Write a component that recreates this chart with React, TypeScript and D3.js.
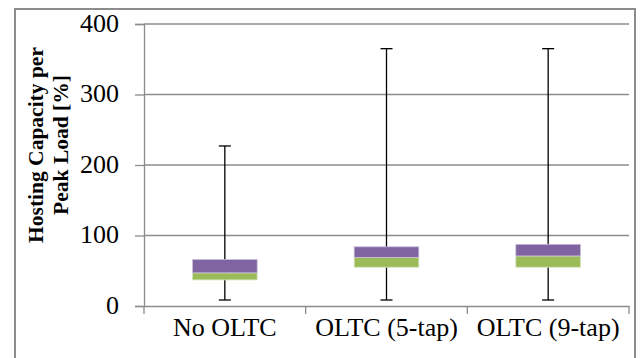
import React, {useEffect, useRef} from 'react';
import * as d3 from "d3";

const categories = ["No OLTC", "OLTC (5-tap)", "OLTC (9-tap)"];
const minValues = [8.5, 8.5, 8.5];
const q1Values = [37, 55, 55];
const medianValues = [47, 69, 71];
const q3Values = [66, 84, 87.5];
const maxValues = [227, 365, 365];
const yTicks = [0, 100, 200, 300, 400];

const width = 641;
const height = 358;

const App = () => {
    const svgRef = useRef<SVGSVGElement>(null);

    useEffect(() => {
        const svg = d3.select(svgRef.current);
        svg.selectAll("*").remove();

        const font = "'Liberation Serif', 'Times New Roman', serif";
        const grey = "#8c8c8c";

        // outer frame
        svg.append("rect")
            .attr("x", 15).attr("y", 9)
            .attr("width", 620).attr("height", 360)
            .attr("fill", "none")
            .attr("stroke", grey)
            .attr("stroke-width", 2);

        const xScale = d3.scaleBand().domain(categories).range([144, 629]);
        const yScale = d3.scaleLinear().domain([0, 400]).range([306, 24]);

        // gridlines
        svg.append("g")
            .selectAll("line")
            .data(yTicks.filter(t => t > 0))
            .join("line")
            .attr("x1", 144).attr("x2", 629)
            .attr("y1", d => yScale(d)).attr("y2", d => yScale(d))
            .attr("stroke", grey)
            .attr("stroke-width", 1.3);

        // y axis
        const yAxis = svg.append("g")
            .attr("transform", "translate(144,0)")
            .call(d3.axisLeft(yScale).tickValues(yTicks).tickSize(9).tickPadding(16));
        yAxis.select(".domain").attr("stroke", grey).attr("stroke-width", 1.3);
        yAxis.selectAll(".tick line").attr("stroke", grey).attr("stroke-width", 1.3);
        yAxis.selectAll(".tick text")
            .attr("font-family", font)
            .attr("font-size", 26)
            .attr("dy", "0.28em")
            .attr("fill", "#000");

        // x axis
        const xAxis = svg.append("g")
            .attr("transform", "translate(0,306)")
            .call(d3.axisBottom(xScale).tickSize(0).tickPadding(11.5));
        xAxis.select(".domain").attr("stroke", grey).attr("stroke-width", 1.3);
        xAxis.selectAll(".tick text")
            .attr("font-family", font)
            .attr("font-size", 26)
            .attr("fill", "#000");
        const bounds = categories.map(c => xScale(c) as number).concat([xScale.range()[1]]);
        xAxis.selectAll(".bound")
            .data(bounds)
            .join("line")
            .attr("x1", d => d).attr("x2", d => d)
            .attr("y1", 0).attr("y2", 8)
            .attr("stroke", grey)
            .attr("stroke-width", 1.3);

        // axis title
        const title = svg.append("text")
            .attr("transform", "rotate(-90)")
            .attr("text-anchor", "middle")
            .attr("font-family", font)
            .attr("font-weight", "bold")
            .attr("font-size", 21.5)
            .attr("fill", "#000");
        title.append("tspan").attr("x", -145).attr("y", 42.5).text("Hosting Capacity per");
        title.append("tspan").attr("x", -145).attr("y", 67.5).text("Peak Load [%]");

        const bw = xScale.bandwidth();
        const boxW = bw * 0.4;
        const capW = 12;
        const idx = d3.range(categories.length);
        const cx = (i: number) => (xScale(categories[i]) as number) + bw / 2;

        // whiskers
        const g = svg.append("g");
        g.selectAll(".whisker")
            .data(idx)
            .join("line")
            .attr("x1", cx).attr("x2", cx)
            .attr("y1", i => yScale(minValues[i]))
            .attr("y2", i => yScale(maxValues[i]))
            .attr("stroke", "#000")
            .attr("stroke-width", 1.3);
        [minValues, maxValues].forEach(arr => {
            g.append("g").selectAll("line")
                .data(idx)
                .join("line")
                .attr("x1", i => cx(i) - capW / 2).attr("x2", i => cx(i) + capW / 2)
                .attr("y1", i => yScale(arr[i])).attr("y2", i => yScale(arr[i]))
                .attr("stroke", "#000")
                .attr("stroke-width", 1.3);
        });

        // boxes: lower part green, upper part purple
        g.append("g").selectAll("rect")
            .data(idx)
            .join("rect")
            .attr("x", i => cx(i) - boxW / 2)
            .attr("width", boxW)
            .attr("y", i => yScale(medianValues[i]))
            .attr("height", i => yScale(q1Values[i]) - yScale(medianValues[i]))
            .attr("fill", "#9BBB59")
            .attr("stroke", "#d6e4bc")
            .attr("stroke-width", 0.8);
        g.append("g").selectAll("rect")
            .data(idx)
            .join("rect")
            .attr("x", i => cx(i) - boxW / 2)
            .attr("width", boxW)
            .attr("y", i => yScale(q3Values[i]))
            .attr("height", i => yScale(medianValues[i]) - yScale(q3Values[i]))
            .attr("fill", "#8064A2")
            .attr("stroke", "#cbbfdb")
            .attr("stroke-width", 0.8);
    }, []);

    return (
        <svg ref={svgRef} width={width} height={height}
             style={{position: "absolute", left: 0, top: 0, background: "#fff"}}>
        </svg>
    );
};

export default App;
